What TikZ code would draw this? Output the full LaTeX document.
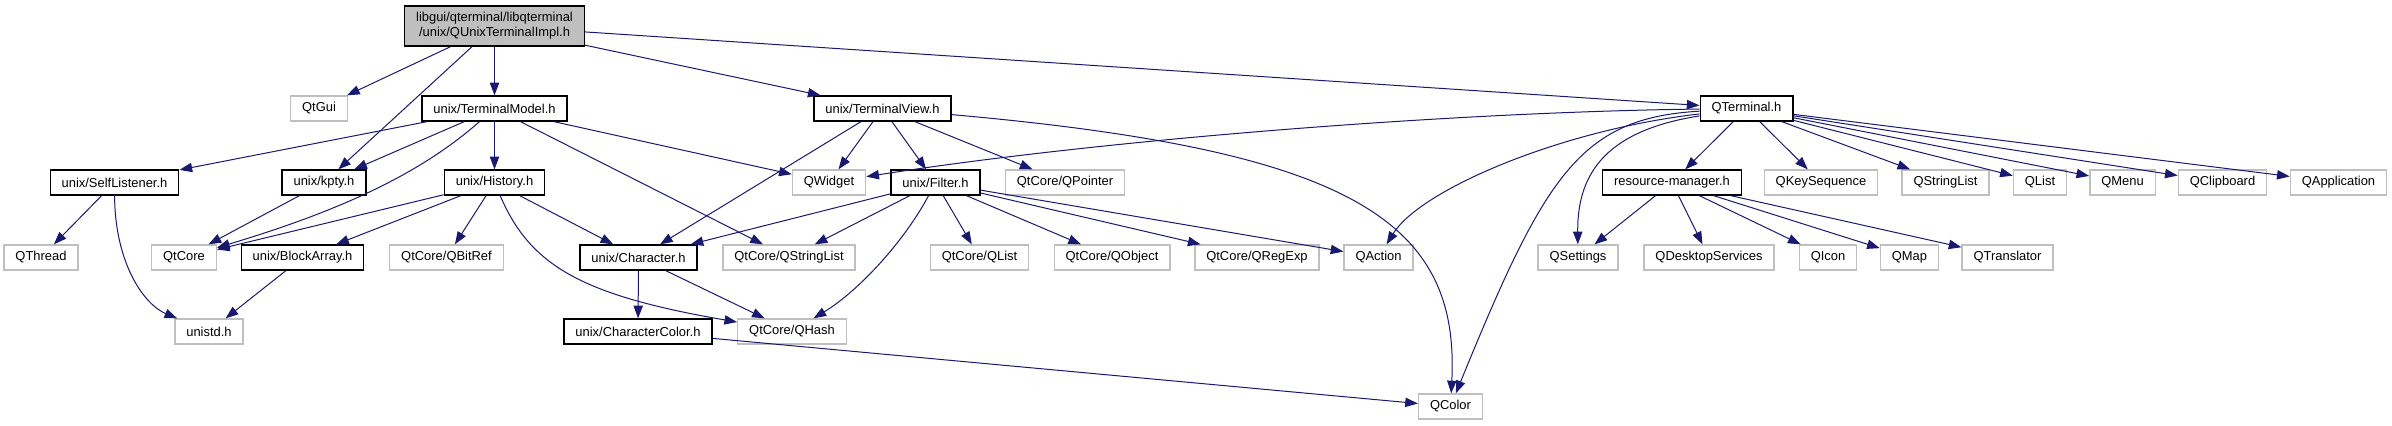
\documentclass[tikz,border=0pt]{standalone}
\usepackage{fontspec}
\setmainfont{Liberation Sans}
\usetikzlibrary{arrows.meta,positioning}
\definecolor{edgeblue}{HTML}{191970}
\definecolor{extgray}{HTML}{BFBFBF}

\begin{document}
\begin{tikzpicture}[
    x=0.75pt, y=-0.75pt,
    docnode/.style={rectangle, draw=black, line width=1pt, fill=white, inner xsep=8.6pt, inner ysep=0pt, minimum height=18.75pt, font=\fontsize{9.7}{11.25}\selectfont},
    extnode/.style={docnode, draw=extgray},
    rootnode/.style={docnode, fill=extgray, align=center, minimum height=30pt},
    arrow/.style={edgeblue, line width=0.75pt, -{Triangle[length=9.5pt,width=7pt]}}
]
\useasboundingbox (0,0) rectangle (2392,425);

% Header being documented
\node[rootnode] (root) at (494.5,26) {libgui/qterminal/libqterminal\\/unix/QUnixTerminalImpl.h};

% First level
\node[extnode] (qtgui) at (319,108.5) {QtGui};
\node[docnode] (tmodel) at (494.5,108.5) {unix/TerminalModel.h};
\node[docnode] (tview) at (882.5,108.5) {unix/TerminalView.h};
\node[docnode] (qterm) at (1746.5,108.5) {QTerminal.h};

% Second level
\node[docnode] (selfl) at (114.5,182.5) {unix/SelfListener.h};
\node[docnode] (kpty) at (324,182.5) {unix/kpty.h};
\node[docnode] (hist) at (494.5,182.5) {unix/History.h};
\node[extnode] (qwidget) at (829,182.5) {QWidget};
\node[docnode] (filter) at (935.5,182.5) {unix/Filter.h};
\node[extnode] (qpointer) at (1065,182.5) {QtCore/QPointer};
\node[docnode] (resmgr) at (1672,182.5) {resource-manager.h};
\node[extnode] (qkeyseq) at (1821,182.5) {QKeySequence};
\node[extnode] (qslist) at (1945.5,182.5) {QStringList};
\node[extnode] (qlist) at (2040,182.5) {QList};
\node[extnode] (qmenu) at (2122.5,182.5) {QMenu};
\node[extnode] (qclip) at (2222.5,182.5) {QClipboard};
\node[extnode] (qapp) at (2338.5,182.5) {QApplication};

% Third level
\node[extnode] (qthread) at (41,257.5) {QThread};
\node[extnode] (qtcore) at (184,257.5) {QtCore};
\node[docnode] (blockarr) at (302.5,257.5) {unix/BlockArray.h};
\node[extnode] (qbitref) at (446.5,257.5) {QtCore/QBitRef};
\node[docnode] (charh) at (638.5,257.5) {unix/Character.h};
\node[extnode] (qcslist) at (789,257.5) {QtCore/QStringList};
\node[extnode] (qclist) at (979.5,257.5) {QtCore/QList};
\node[extnode] (qobject) at (1112,257.5) {QtCore/QObject};
\node[extnode] (qregexp) at (1257,257.5) {QtCore/QRegExp};
\node[extnode] (qaction) at (1378.5,257.5) {QAction};
\node[extnode] (qsettings) at (1578,257.5) {QSettings};
\node[extnode] (qdesk) at (1709,257.5) {QDesktopServices};
\node[extnode] (qicon) at (1828,257.5) {QIcon};
\node[extnode] (qmap) at (1909.5,257.5) {QMap};
\node[extnode] (qtrans) at (2007.5,257.5) {QTranslator};

% Fourth and fifth level
\node[extnode] (unistd) at (209,331.5) {unistd.h};
\node[docnode] (charcol) at (638,331.5) {unix/CharacterColor.h};
\node[extnode] (qhash) at (792,331.5) {QtCore/QHash};
\node[extnode] (qcolor) at (1450.5,406.5) {QColor};

% Includes of the header
\draw[arrow] (root) -- (qtgui);
\draw[arrow] (root) -- (kpty);
\draw[arrow] (root) -- (tmodel);
\draw[arrow] (root) -- (tview);
\draw[arrow] (root) -- (qterm);

% TerminalModel.h
\draw[arrow] (tmodel) -- (selfl);
\draw[arrow] (tmodel) -- (kpty);
\draw[arrow] (tmodel) .. controls (430,165) and (360,205) .. (qtcore);
\draw[arrow] (tmodel) -- (hist);
\draw[arrow] (tmodel) -- (qwidget);
\draw[arrow] (tmodel) -- (qcslist);

% History.h
\draw[arrow] (hist) -- (qtcore);
\draw[arrow] (hist) -- (blockarr);
\draw[arrow] (hist) -- (qbitref);
\draw[arrow] (hist) -- (charh);
\draw[arrow] (hist) .. controls (530,265) and (580,295) .. (qhash);

% Small helpers
\draw[arrow] (selfl) -- (qthread);
\draw[arrow] (selfl) .. controls (115,265) and (145,305) .. (unistd);
\draw[arrow] (kpty) -- (qtcore);
\draw[arrow] (blockarr) -- (unistd);
\draw[arrow] (charh) -- (charcol);
\draw[arrow] (charh) -- (qhash);
\draw[arrow] (charcol) -- (qcolor);

% TerminalView.h
\draw[arrow] (tview) -- (charh);
\draw[arrow] (tview) -- (qwidget);
\draw[arrow] (tview) -- (filter);
\draw[arrow] (tview) -- (qpointer);
\draw[arrow] (tview) .. controls (1350,150) and (1460,220) .. (qcolor);

% Filter.h
\draw[arrow] (filter) -- (charh);
\draw[arrow] (filter) -- (qcslist);
\draw[arrow] (filter) .. controls (905,240) and (860,290) .. (qhash);
\draw[arrow] (filter) -- (qclist);
\draw[arrow] (filter) -- (qobject);
\draw[arrow] (filter) -- (qregexp);
\draw[arrow] (filter) -- (qaction);

% QTerminal.h
\draw[arrow] (qterm) .. controls (1450,112) and (1100,140) .. (qwidget);
\draw[arrow] (qterm) .. controls (1560,130) and (1420,190) .. (qaction);
\draw[arrow] (qterm) .. controls (1580,118) and (1545,175) .. (qcolor);
\draw[arrow] (qterm) .. controls (1610,130) and (1577,170) .. (qsettings);
\draw[arrow] (qterm) -- (resmgr);
\draw[arrow] (qterm) -- (qkeyseq);
\draw[arrow] (qterm) -- (qslist);
\draw[arrow] (qterm) -- (qlist);
\draw[arrow] (qterm) -- (qmenu);
\draw[arrow] (qterm) -- (qclip);
\draw[arrow] (qterm) -- (qapp);

% resource-manager.h
\draw[arrow] (resmgr) -- (qsettings);
\draw[arrow] (resmgr) -- (qdesk);
\draw[arrow] (resmgr) -- (qicon);
\draw[arrow] (resmgr) -- (qmap);
\draw[arrow] (resmgr) -- (qtrans);

\end{tikzpicture}
\end{document}
